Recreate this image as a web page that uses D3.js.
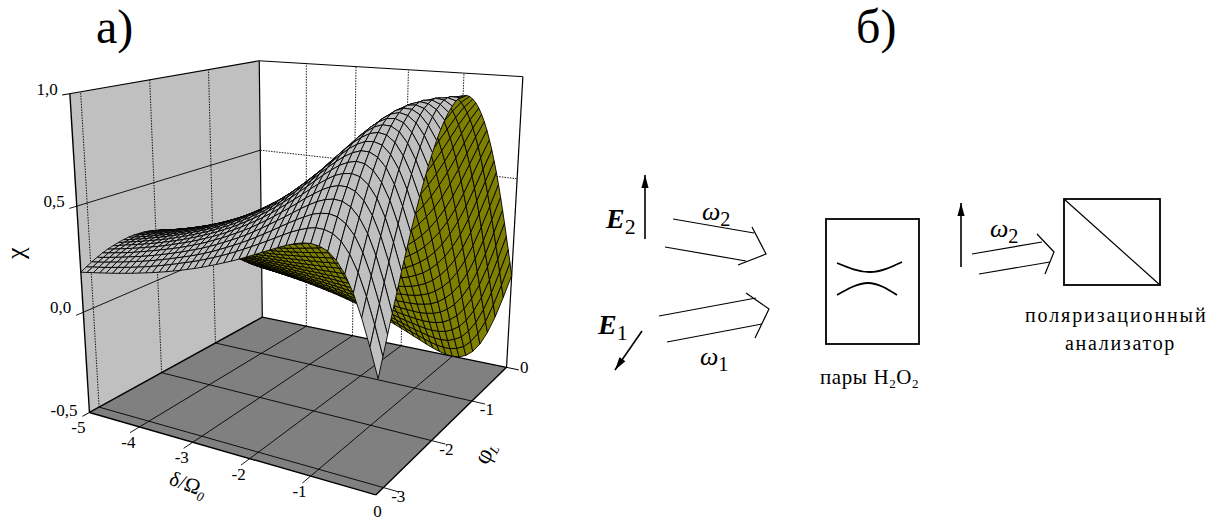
<!DOCTYPE html>
<head>
  <meta charset="utf-8">
  <script src="https://d3js.org/d3.v7.min.js"></script>
  <style>
    body { margin:0; background:#fff; }
    text { font-family:"Liberation Serif", serif; fill:#000; }
    .tick { font-size:17px; }
  </style>
</head>

<body>
  <script>
  // ---------- Data ------------------------------------
    var deltaValues = [-5,-4.875,-4.75,-4.625,-4.5,-4.375,-4.25,-4.125,-4,-3.875,-3.75,-3.625,-3.5,-3.375,-3.25,-3.125,-3,-2.875,-2.75,-2.625,-2.5,-2.375,-2.25,-2.125,-2,-1.875,-1.75,-1.625,-1.5,-1.375,-1.25,-1.125,-1,-0.875,-0.75,-0.625,-0.5,-0.375,-0.25,-0.125,0];
    var phiValues = [-3.142,-3.063,-2.985,-2.906,-2.827,-2.749,-2.670,-2.592,-2.513,-2.435,-2.356,-2.278,-2.199,-2.121,-2.042,-1.963,-1.885,-1.806,-1.728,-1.649,-1.571,-1.492,-1.414,-1.335,-1.257,-1.178,-1.100,-1.021,-0.942,-0.864,-0.785,-0.707,-0.628,-0.550,-0.471,-0.393,-0.314,-0.236,-0.157,-0.079,0];
    // one row per delta, one column per phi
    var chiValues = [
      [.192,.207,.221,.233,.244,.253,.260,.266,.271,.274,.275,.274,.272,.268,.262,.254,.245,.235,.224,.211,.196,.181,.164,.146,.127,.108,.088,.067,.046,.025,.003,-.019,-.041,-.062,-.082,-.102,-.122,-.141,-.159,-.176,-.192],
      [.197,.212,.226,.238,.250,.259,.267,.273,.277,.280,.282,.281,.279,.275,.269,.261,.251,.241,.229,.216,.201,.185,.168,.150,.130,.110,.090,.068,.047,.025,.003,-.019,-.041,-.063,-.084,-.104,-.125,-.144,-.163,-.180,-.197],
      [.202,.217,.231,.244,.256,.266,.274,.280,.284,.287,.289,.288,.286,.282,.276,.268,.258,.247,.235,.221,.206,.190,.173,.154,.134,.113,.092,.070,.048,.026,.003,-.020,-.042,-.064,-.086,-.107,-.128,-.148,-.167,-.185,-.202],
      [.207,.222,.237,.250,.262,.272,.281,.287,.291,.294,.296,.295,.293,.289,.282,.274,.264,.253,.241,.227,.211,.195,.177,.158,.137,.116,.094,.072,.049,.026,.003,-.020,-.042,-.065,-.088,-.109,-.131,-.151,-.171,-.189,-.207],
      [.212,.228,.243,.256,.268,.279,.288,.294,.299,.302,.303,.303,.301,.296,.289,.281,.271,.260,.247,.233,.217,.200,.181,.162,.141,.119,.097,.074,.051,.027,.003,-.020,-.043,-.067,-.090,-.112,-.134,-.155,-.175,-.194,-.212],
      [.217,.234,.249,.263,.275,.286,.295,.302,.307,.310,.311,.311,.308,.304,.297,.289,.279,.267,.254,.239,.223,.205,.186,.166,.145,.122,.100,.076,.052,.028,.003,-.020,-.044,-.068,-.092,-.115,-.137,-.159,-.179,-.199,-.217],
      [.223,.240,.256,.270,.283,.294,.303,.310,.315,.318,.320,.319,.316,.312,.305,.297,.287,.275,.261,.246,.229,.211,.191,.171,.149,.126,.103,.079,.054,.029,.004,-.021,-.045,-.070,-.095,-.118,-.141,-.163,-.184,-.204,-.223],
      [.229,.246,.263,.277,.291,.302,.311,.318,.324,.327,.328,.328,.325,.321,.314,.306,.295,.283,.269,.253,.236,.217,.197,.176,.153,.130,.106,.081,.056,.030,.004,-.021,-.046,-.072,-.097,-.121,-.145,-.167,-.189,-.209,-.229],
      [.235,.253,.270,.285,.299,.310,.320,.327,.333,.336,.337,.337,.334,.330,.323,.315,.304,.291,.277,.261,.243,.224,.203,.181,.158,.134,.109,.084,.058,.032,.005,-.021,-.047,-.074,-.100,-.125,-.149,-.172,-.194,-.215,-.235],
      [.242,.260,.278,.293,.308,.319,.329,.337,.343,.346,.347,.347,.344,.340,.333,.324,.313,.300,.285,.269,.250,.231,.209,.187,.163,.138,.113,.087,.060,.033,.005,-.021,-.048,-.075,-.102,-.128,-.153,-.177,-.200,-.221,-.242],
      [.249,.268,.286,.302,.317,.329,.339,.347,.353,.356,.358,.357,.354,.350,.343,.334,.322,.309,.294,.277,.258,.238,.216,.193,.168,.143,.117,.090,.062,.034,.006,-.022,-.049,-.077,-.105,-.131,-.157,-.182,-.206,-.228,-.249],
      [.256,.276,.295,.311,.326,.339,.349,.358,.364,.368,.369,.368,.365,.361,.354,.344,.332,.319,.303,.285,.266,.245,.223,.199,.173,.147,.121,.093,.064,.035,.006,-.022,-.050,-.079,-.107,-.135,-.161,-.187,-.212,-.235,-.256],
      [.264,.285,.304,.321,.336,.349,.360,.369,.376,.380,.381,.380,.377,.372,.365,.355,.343,.329,.312,.294,.275,.253,.230,.205,.179,.152,.125,.096,.067,.037,.007,-.023,-.052,-.081,-.110,-.139,-.166,-.193,-.218,-.242,-.264],
      [.272,.294,.314,.331,.347,.360,.372,.381,.388,.392,.394,.393,.390,.385,.377,.367,.355,.340,.323,.304,.284,.262,.238,.213,.186,.158,.129,.100,.070,.039,.008,-.023,-.053,-.083,-.113,-.142,-.171,-.199,-.225,-.249,-.272],
      [.281,.304,.324,.342,.358,.372,.384,.393,.400,.405,.407,.406,.403,.398,.390,.380,.367,.352,.335,.315,.294,.271,.247,.221,.193,.164,.134,.104,.073,.041,.009,-.023,-.054,-.085,-.116,-.146,-.176,-.205,-.232,-.257,-.281],
      [.290,.314,.334,.353,.370,.385,.397,.407,.414,.419,.421,.420,.417,.412,.404,.393,.380,.365,.347,.327,.305,.281,.256,.229,.200,.171,.140,.108,.076,.043,.010,-.023,-.055,-.087,-.119,-.150,-.181,-.211,-.239,-.265,-.290],
      [.300,.324,.345,.365,.383,.398,.411,.421,.429,.434,.436,.435,.432,.426,.418,.407,.394,.378,.359,.339,.316,.291,.265,.237,.208,.178,.146,.113,.080,.046,.012,-.023,-.057,-.090,-.123,-.155,-.187,-.218,-.247,-.274,-.300],
      [.310,.335,.357,.378,.397,.412,.426,.436,.445,.450,.452,.451,.448,.442,.434,.422,.409,.392,.373,.352,.329,.303,.276,.247,.217,.185,.152,.118,.083,.048,.013,-.022,-.058,-.092,-.126,-.160,-.193,-.225,-.255,-.283,-.310],
      [.321,.347,.370,.392,.411,.427,.441,.452,.461,.466,.469,.468,.465,.459,.450,.438,.424,.407,.388,.366,.342,.316,.288,.258,.226,.193,.158,.123,.087,.051,.015,-.022,-.059,-.095,-.130,-.165,-.199,-.232,-.264,-.293,-.321],
      [.333,.360,.384,.407,.427,.444,.458,.470,.479,.484,.488,.487,.484,.478,.469,.456,.442,.424,.404,.381,.356,.329,.300,.269,.236,.202,.166,.129,.092,.054,.017,-.021,-.060,-.097,-.134,-.170,-.206,-.240,-.273,-.304,-.333],
      [.345,.373,.399,.422,.443,.461,.476,.488,.497,.503,.507,.506,.503,.497,.488,.475,.460,.442,.421,.397,.371,.343,.313,.280,.246,.211,.174,.136,.097,.058,.019,-.021,-.061,-.100,-.138,-.176,-.213,-.249,-.283,-.315,-.345],
      [.358,.387,.414,.438,.460,.479,.495,.508,.518,.524,.528,.528,.525,.518,.509,.496,.480,.462,.440,.415,.388,.359,.328,.294,.258,.222,.184,.144,.104,.063,.022,-.019,-.061,-.102,-.142,-.182,-.220,-.258,-.293,-.326,-.358],
      [.371,.402,.430,.455,.478,.498,.515,.528,.539,.545,.549,.550,.547,.540,.530,.517,.501,.482,.459,.434,.406,.376,.343,.308,.271,.233,.194,.153,.111,.068,.025,-.018,-.061,-.104,-.147,-.188,-.228,-.267,-.304,-.338,-.371],
      [.385,.418,.447,.474,.498,.519,.537,.551,.563,.569,.574,.575,.572,.565,.555,.541,.525,.505,.481,.455,.426,.395,.361,.325,.286,.246,.205,.162,.119,.074,.029,-.016,-.061,-.105,-.150,-.193,-.235,-.275,-.314,-.350,-.385],
      [.400,.434,.465,.493,.518,.540,.559,.574,.587,.594,.599,.600,.597,.590,.580,.566,.549,.528,.504,.477,.447,.415,.380,.342,.301,.259,.216,.172,.127,.080,.033,-.014,-.061,-.107,-.153,-.198,-.242,-.284,-.325,-.363,-.400],
      [.415,.451,.484,.514,.540,.564,.584,.600,.614,.622,.627,.628,.625,.619,.609,.594,.577,.555,.530,.502,.471,.438,.401,.362,.320,.276,.231,.184,.137,.088,.039,-.010,-.059,-.107,-.156,-.203,-.249,-.294,-.337,-.377,-.415],
      [.431,.468,.503,.535,.563,.588,.609,.627,.641,.650,.656,.657,.654,.648,.638,.623,.605,.583,.557,.528,.496,.461,.423,.382,.339,.293,.246,.197,.148,.097,.046,-.006,-.057,-.108,-.159,-.208,-.257,-.304,-.349,-.392,-.431],
      [.446,.486,.523,.556,.586,.613,.636,.655,.670,.680,.687,.689,.687,.681,.671,.656,.638,.615,.588,.558,.525,.489,.449,.407,.362,.314,.265,.214,.163,.110,.056,.002,-.052,-.105,-.159,-.211,-.262,-.311,-.359,-.404,-.446],
      [.462,.504,.543,.578,.610,.638,.663,.683,.699,.710,.718,.721,.720,.714,.704,.690,.671,.647,.620,.589,.555,.517,.476,.432,.385,.336,.284,.232,.178,.122,.066,.010,-.047,-.103,-.159,-.214,-.268,-.319,-.369,-.417,-.462],
      [.476,.521,.562,.600,.635,.665,.691,.713,.731,.744,.753,.756,.756,.750,.740,.725,.706,.683,.655,.623,.588,.549,.507,.461,.412,.361,.308,.252,.196,.138,.079,.020,-.039,-.099,-.157,-.215,-.271,-.326,-.378,-.429,-.476],
      [.488,.535,.579,.620,.657,.690,.719,.743,.762,.777,.787,.792,.792,.787,.778,.764,.745,.721,.693,.661,.625,.585,.541,.494,.443,.391,.336,.278,.218,.158,.097,.035,-.028,-.090,-.151,-.212,-.271,-.329,-.385,-.438,-.488],
      [.497,.547,.595,.638,.678,.713,.744,.771,.792,.809,.821,.828,.829,.826,.818,.803,.786,.762,.734,.701,.664,.623,.578,.530,.478,.423,.366,.306,.245,.182,.119,.053,-.012,-.077,-.142,-.205,-.268,-.328,-.387,-.443,-.497],
      [.500,.554,.604,.651,.694,.733,.767,.796,.821,.840,.854,.863,.866,.864,.857,.845,.827,.804,.777,.744,.707,.666,.621,.571,.517,.461,.403,.342,.278,.213,.146,.079,.011,-.057,-.125,-.192,-.258,-.322,-.384,-.443,-.500],
      [.495,.552,.607,.657,.704,.745,.783,.815,.843,.865,.882,.894,.900,.901,.896,.885,.869,.848,.821,.790,.753,.712,.667,.616,.563,.507,.446,.383,.318,.252,.182,.113,.043,-.029,-.099,-.169,-.238,-.305,-.371,-.434,-.495],
      [.480,.541,.599,.653,.703,.749,.791,.827,.858,.884,.905,.920,.929,.933,.931,.923,.909,.890,.865,.835,.800,.760,.715,.666,.613,.556,.495,.431,.365,.297,.227,.155,.082,.009,-.065,-.137,-.209,-.280,-.349,-.416,-.480],
      [.449,.515,.576,.635,.689,.740,.785,.826,.861,.892,.917,.937,.950,.958,.960,.955,.946,.930,.908,.880,.848,.810,.768,.720,.668,.611,.552,.488,.422,.353,.283,.210,.135,.060,-.015,-.090,-.165,-.239,-.310,-.381,-.449],
      [.400,.469,.535,.597,.656,.711,.762,.808,.850,.885,.915,.940,.959,.972,.979,.980,.975,.963,.946,.923,.894,.861,.822,.777,.727,.673,.615,.554,.489,.420,.349,.276,.202,.126,.050,-.027,-.104,-.180,-.255,-.329,-.400],
      [.329,.401,.471,.538,.602,.662,.718,.770,.816,.858,.895,.926,.950,.970,.983,.991,.992,.987,.975,.959,.936,.907,.873,.833,.788,.739,.685,.626,.564,.498,.429,.358,.284,.208,.132,.054,-.024,-.102,-.179,-.255,-.329],
      [.235,.310,.383,.455,.524,.589,.650,.707,.760,.808,.852,.890,.923,.950,.971,.986,.996,.999,.995,.985,.970,.948,.921,.888,.850,.806,.757,.704,.647,.585,.520,.451,.380,.306,.230,.153,.076,-.003,-.081,-.158,-.235],
      [.123,.201,.276,.352,.424,.494,.560,.623,.683,.738,.788,.834,.875,.910,.940,.964,.981,.994,.999,.999,.992,.979,.961,.936,.905,.870,.828,.782,.731,.674,.614,.550,.483,.413,.340,.266,.190,.112,.034,-.045,-.123],
      [0,.078,.156,.233,.309,.383,.454,.523,.588,.649,.707,.760,.809,.853,.891,.924,.951,.972,.988,.997,1,.997,.988,.972,.951,.924,.891,.853,.809,.760,.707,.649,.588,.523,.454,.383,.309,.233,.156,.078,0]
    ];
    var deltaTicks = [-4,-3,-2,-1];
    var phiTicks = [-3,-2,-1];
    var chiTicks = [0,0.5];
    var chiLabels = [[-0.5,"-0,5"],[0,"0,0"],[0.5,"0,5"],[1,"1,0"]];
    var deltaLabels = [[-5,"-5"],[-4,"-4"],[-3,"-3"],[-2,"-2"],[-1,"-1"],[0,"0"]];
    var phiLabels = [[0,"0"],[-1,"-1"],[-2,"-2"],[-3,"-3"]];

  // ---------- Creating SVG ---------------
    var svg = d3.select("body").append("svg")
      .attr("width", 1218)
      .attr("height", 520);

    var dScale = d3.scaleLinear().domain([-5,0]).range([0,1]);
    var pScale = d3.scaleLinear().domain([-Math.PI,0]).range([0,1]);
    var zScale = d3.scaleLinear().domain([-0.5,1]).range([0,1]);

  // ---------- Camera: fit a perspective from the corners of the box ---------
    var anchors = [
      [-5,-Math.PI,-0.5, 90,413], [0,-Math.PI,-0.5, 375,495], [0,0,-0.5, 507,367], [-5,0,-0.5, 262,317],
      [-5,-Math.PI,1, 70,93], [-5,0,1, 259,61], [0,0,1, 523,77]
    ];

    function solve(A, b) {
      var n = b.length;
      for (var i = 0; i < n; i++) {
        var piv = i;
        for (var r = i + 1; r < n; r++) if (Math.abs(A[r][i]) > Math.abs(A[piv][i])) piv = r;
        var t = A[i]; A[i] = A[piv]; A[piv] = t;
        t = b[i]; b[i] = b[piv]; b[piv] = t;
        for (r = i + 1; r < n; r++) {
          var f = A[r][i] / A[i][i];
          for (var c = i; c < n; c++) A[r][c] -= f * A[i][c];
          b[r] -= f * b[i];
        }
      }
      var x = [];
      for (i = n - 1; i >= 0; i--) {
        var s = b[i];
        for (c = i + 1; c < n; c++) s -= A[i][c] * x[c];
        x[i] = s / A[i][i];
      }
      return x;
    }

    function fitCamera(points) {
      var N = d3.range(11).map(() => d3.range(11).map(() => 0));
      var R = d3.range(11).map(() => 0);
      function addRow(row, rhs) {
        row.forEach((a, i) => {
          row.forEach((b, j) => { N[i][j] += a * b; });
          R[i] += a * rhs;
        });
      }
      points.forEach(p => {
        var X = dScale(p[0]), Y = pScale(p[1]), Z = zScale(p[2]), u = p[3], v = p[4];
        addRow([X,Y,Z,1,0,0,0,0,-u*X,-u*Y,-u*Z], u);
        addRow([0,0,0,0,X,Y,Z,1,-v*X,-v*Y,-v*Z], v);
      });
      return solve(N, R);
    }
    var cam = fitCamera(anchors);

    function project(d, p, z) {
      var X = dScale(d), Y = pScale(p), Z = zScale(z);
      var w = cam[8]*X + cam[9]*Y + cam[10]*Z + 1;
      return [(cam[0]*X + cam[1]*Y + cam[2]*Z + cam[3]) / w,
              (cam[4]*X + cam[5]*Y + cam[6]*Z + cam[7]) / w];
    }

    var line3 = d3.line();
    function seg(g, a, b) {
      return g.append("path")
        .attr("d", line3([project(a[0],a[1],a[2]), project(b[0],b[1],b[2])]))
        .attr("fill", "none")
        .attr("stroke", "#000");
    }
    function poly(g, pts, fill) {
      g.append("path")
        .attr("d", line3(pts.map(q => project(q[0],q[1],q[2]))) + "Z")
        .attr("fill", fill);
    }

    var PI = -Math.PI, Dmin = -5, Zmin = -0.5, Zmax = 1;
    var box = svg.append("g");

  // ---------- Walls and floor ---------
    poly(box, [[Dmin,PI,Zmin],[Dmin,0,Zmin],[Dmin,0,Zmax],[Dmin,PI,Zmax]], "#c0c0c0");
    poly(box, [[Dmin,PI,Zmin],[0,PI,Zmin],[0,0,Zmin],[Dmin,0,Zmin]], "#808080");

  // ---------- Grid lines ---------
    var dotted = "1.5,1.2";
    deltaTicks.forEach(d => {
      seg(box, [d,0,Zmin], [d,0,Zmax]).attr("stroke-width", 0.9).attr("stroke-dasharray", dotted);
      seg(box, [d,0,Zmin], [d,PI-0.14,Zmin]).attr("stroke-width", 0.9);
    });
    phiTicks.forEach(p => {
      seg(box, [Dmin,p,Zmin], [Dmin,p,Zmax]).attr("stroke-width", 0.9).attr("stroke-dasharray", dotted);
      seg(box, [Dmin,p,Zmin], [0.22,p,Zmin]).attr("stroke-width", 0.9);
    });
    chiTicks.forEach(z => {
      seg(box, [Dmin,PI-0.1,z], [Dmin,0,z]).attr("stroke-width", 0.9);
      seg(box, [Dmin,0,z], [0,0,z]).attr("stroke-width", 0.9).attr("stroke-dasharray", dotted);
    });

  // ---------- Box frame ---------
    seg(box, [Dmin,PI,Zmin], [Dmin,PI,Zmax]).attr("stroke-width", 1.4);
    seg(box, [Dmin,0,Zmin], [Dmin,0,Zmax]).attr("stroke-width", 1.2);
    seg(box, [0,0,Zmin], [0,0,Zmax]).attr("stroke-width", 1.2);
    seg(box, [Dmin,PI-0.1,Zmax], [Dmin,0,Zmax]).attr("stroke-width", 1.2);
    seg(box, [Dmin,0,Zmax], [0,0,Zmax]).attr("stroke-width", 1);
    seg(box, [Dmin,PI,Zmin], [0,PI,Zmin]).attr("stroke-width", 1.4);
    seg(box, [0,PI,Zmin], [0,0,Zmin]).attr("stroke-width", 1.4);
    seg(box, [Dmin,0,Zmin], [0,0,Zmin]).attr("stroke-width", 1.4);
    seg(box, [Dmin,PI,Zmin], [Dmin,0,Zmin]).attr("stroke-width", 1.4);
    seg(box, [Dmin,PI-0.1,Zmin], [Dmin,PI,Zmin]).attr("stroke-width", 1);
    seg(box, [0.22,0,Zmin], [0,0,Zmin]).attr("stroke-width", 1);

  // ---------- Surface, far corner first, so near cells cover far ones ---------
    var surface = svg.append("g")
      .attr("stroke", "#000")
      .attr("stroke-width", 0.9)
      .attr("stroke-linejoin", "round");

    deltaValues.slice(0,-1).forEach((d0, i) => {
      for (var j = phiValues.length - 2; j >= 0; j--) {
        var cell = [[i,j],[i+1,j],[i+1,j+1],[i,j+1]];
        var q = cell.map(c => project(deltaValues[c[0]], phiValues[c[1]], chiValues[c[0]][c[1]]));
        var flat = cell.map(c => project(deltaValues[c[0]], phiValues[c[1]], 0));
        var top = d3.polygonArea(q) * d3.polygonArea(flat) > 0;
        surface.append("path")
          .attr("d", line3(q) + "Z")
          .attr("fill", top ? "#c0c0c0" : "#808000");
      }
    });

  // ---------- Tick labels ---------
    function label(pos, dx, dy, txt) {
      svg.append("text").attr("class", "tick")
        .attr("x", pos[0] + dx).attr("y", pos[1] + dy)
        .attr("text-anchor", "end").text(txt);
    }
    chiLabels.forEach(c => label(project(Dmin,PI,c[0]), -12, c[0] < 0 ? 4 : 1, c[1]));
    deltaLabels.forEach(c => label(project(c[0],PI,Zmin), c[0] === 0 ? 6 : -4, c[0] === 0 ? 22 : 21, c[1]));
    phiLabels.forEach(c => label(project(0,c[0],Zmin), 22, c[0] === 0 ? 6 : 14, c[1]));

    svg.append("text").attr("transform", "translate(24,259) rotate(-90)")
      .attr("font-size", 26).text("χ");
    svg.append("text").attr("transform", "translate(168,484) rotate(20)")
      .attr("font-size", 21).text("δ/Ω")
      .append("tspan").attr("font-size", 13).attr("dy", 5).attr("font-style", "italic").text("0");
    svg.append("text").attr("transform", "translate(487,466) rotate(-62)")
      .attr("font-size", 25).text("φ")
      .append("tspan").attr("font-size", 13).attr("dy", 3).attr("font-style", "italic").text("L");

    svg.append("text").attr("x", 96).attr("y", 43).attr("font-size", 48).text("а)");
    svg.append("text").attr("x", 856).attr("y", 43).attr("font-size", 48).text("б)");

  // ---------- Scheme б) ---------
    var scheme = svg.append("g").attr("fill", "none").attr("stroke", "#000").attr("stroke-width", 1.2);
    var schemeLines = [
      [[673,219],[754,233]], [[665,247],[746,261]], [[752,227],[766,254],[738,265]],
      [[659,316],[756,298]], [[667,342],[762,324]], [[746,293],[769,309],[755,338]],
      [[972,254],[1042,242]], [[979,274],[1050,262]], [[1037,234],[1054,252],[1045,274]],
      [[1064,199],[1160,285]]
    ];
    schemeLines.forEach(l => scheme.append("path").attr("d", line3(l)));
    var arrows = [[[645,239],[645,175]], [[642,331],[615,370]], [[961,267],[961,203]]];
    arrows.forEach(a => {
      scheme.append("path").attr("d", line3(a)).attr("stroke-width", 1.6);
      var ang = Math.atan2(a[1][1]-a[0][1], a[1][0]-a[0][0]), L = 13, W = 3.6;
      var tip = a[1];
      var bx = tip[0] - L*Math.cos(ang), by = tip[1] - L*Math.sin(ang);
      scheme.append("path")
        .attr("d", line3([tip, [bx - W*Math.sin(ang), by + W*Math.cos(ang)], [bx + W*Math.sin(ang), by - W*Math.cos(ang)]]) + "Z")
        .attr("fill", "#000").attr("stroke", "none");
    });
    scheme.append("rect").attr("x", 826).attr("y", 219).attr("width", 93).attr("height", 125).attr("stroke-width", 1.8);
    scheme.append("rect").attr("x", 1064).attr("y", 199).attr("width", 96).attr("height", 86).attr("stroke-width", 1.8);
    var arc = d3.line().curve(d3.curveNatural);
    scheme.append("path").attr("d", arc([[837,263],[870,272],[902,262]])).attr("stroke-width", 1.8);
    scheme.append("path").attr("d", arc([[837,295],[868,283],[897,295]])).attr("stroke-width", 1.8);

    function sym(x, y, main, sub, size, bold) {
      var t = svg.append("text").attr("x", x).attr("y", y).attr("font-size", size)
        .attr("font-style", "italic").attr("font-weight", bold ? "bold" : "normal").text(main);
      t.append("tspan").attr("font-style", "normal").attr("font-weight", "normal")
        .attr("font-size", size * 0.78).attr("dy", 6).text(sub);
    }
    sym(606, 228, "E", "2", 28, true);
    sym(598, 334, "E", "1", 28, true);
    sym(702, 220, "ω", "2", 26, false);
    sym(990, 237, "ω", "2", 26, false);
    sym(700, 365, "ω", "1", 26, false);

    var pair = svg.append("text").attr("x", 820).attr("y", 384).attr("font-size", 21).attr("letter-spacing", 0.6).text("пары H");
    pair.append("tspan").attr("font-size", 13).attr("dy", 4).text("2");
    pair.append("tspan").attr("font-size", 21).attr("dy", -4).text("O");
    pair.append("tspan").attr("font-size", 13).attr("dy", 4).text("2");
    svg.append("text").attr("x", 1025).attr("y", 322).attr("font-size", 20).attr("letter-spacing", 1.9).text("поляризационный");
    svg.append("text").attr("x", 1065).attr("y", 350).attr("font-size", 20).attr("letter-spacing", 1.7).text("анализатор");
  </script>
</body>
